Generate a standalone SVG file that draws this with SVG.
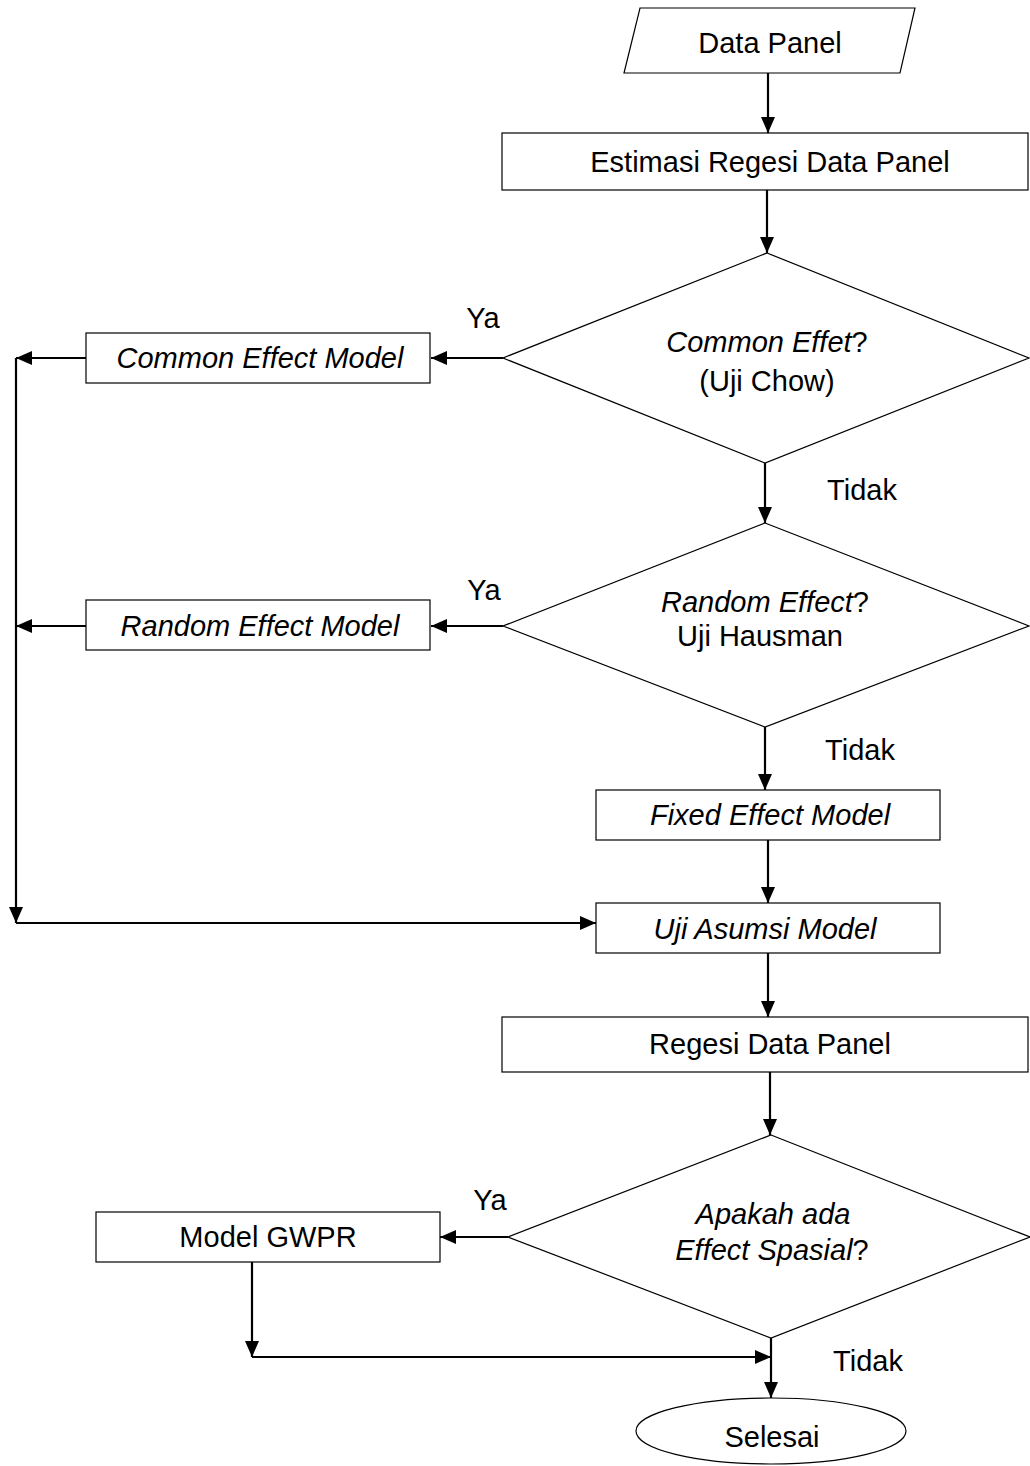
<svg xmlns="http://www.w3.org/2000/svg" width="1030" height="1466" viewBox="0 0 1030 1466">
<style>
.s{fill:#fff;stroke:#000;stroke-width:1.2}
.c{fill:none;stroke:#000;stroke-width:2.2}
text{font-family:"Liberation Sans",Arial,sans-serif;font-size:29px;fill:#000}
.m{text-anchor:middle}
.i{font-style:italic}
</style>
<defs>
<marker id="ah" markerUnits="userSpaceOnUse" markerWidth="16" markerHeight="14" refX="16" refY="7" orient="auto">
<path d="M0,0 L16,7 L0,14 Z" fill="#000"/>
</marker>
</defs>
<g id="connectors">
<line class="c" x1="768" y1="73" x2="768" y2="133" marker-end="url(#ah)"/>
<line class="c" x1="767" y1="190" x2="767" y2="253" marker-end="url(#ah)"/>
<line class="c" x1="503" y1="358" x2="431" y2="358" marker-end="url(#ah)"/>
<line class="c" x1="86" y1="358" x2="16" y2="358" marker-end="url(#ah)"/>
<line class="c" x1="765" y1="463" x2="765" y2="523" marker-end="url(#ah)"/>
<line class="c" x1="503" y1="626" x2="431" y2="626" marker-end="url(#ah)"/>
<line class="c" x1="86" y1="626" x2="16" y2="626" marker-end="url(#ah)"/>
<line class="c" x1="16" y1="358" x2="16" y2="923" marker-end="url(#ah)"/>
<line class="c" x1="16" y1="923" x2="596" y2="923" marker-end="url(#ah)"/>
<line class="c" x1="765" y1="727" x2="765" y2="790" marker-end="url(#ah)"/>
<line class="c" x1="768" y1="840" x2="768" y2="903" marker-end="url(#ah)"/>
<line class="c" x1="768" y1="953" x2="768" y2="1017" marker-end="url(#ah)"/>
<line class="c" x1="770" y1="1072" x2="770" y2="1135" marker-end="url(#ah)"/>
<line class="c" x1="508" y1="1237" x2="440" y2="1237" marker-end="url(#ah)"/>
<line class="c" x1="252" y1="1262" x2="252" y2="1357" marker-end="url(#ah)"/>
<line class="c" x1="252" y1="1357" x2="771" y2="1357" marker-end="url(#ah)"/>
<line class="c" x1="771" y1="1338" x2="771" y2="1398" marker-end="url(#ah)"/>
</g>
<g id="labels">
<text class="m" x="483" y="328">Ya</text>
<text class="m" x="862" y="500">Tidak</text>
<text class="m" x="484" y="600">Ya</text>
<text class="m" x="860" y="760">Tidak</text>
<text class="m" x="490" y="1210">Ya</text>
<text class="m" x="868" y="1371">Tidak</text>
</g>
<g id="data-panel">
<polygon class="s" points="640,8 915,8 900,73 624,73"/>
<text class="m" x="770" y="53">Data Panel</text>
</g>
<g id="estimasi">
<rect class="s" x="502" y="133" width="526" height="57"/>
<text class="m" x="770" y="172">Estimasi Regesi Data Panel</text>
</g>
<g id="d-common">
<polygon class="s" points="767,253 1029,358 765,463 503,358"/>
<text class="m" x="767" y="352"><tspan class="i">Common Effet</tspan>?</text>
<text class="m" x="767" y="391">(Uji Chow)</text>
</g>
<g id="common-model">
<rect class="s" x="86" y="333" width="344" height="50"/>
<text class="m i" x="260" y="368">Common Effect Model</text>
</g>
<g id="d-random">
<polygon class="s" points="765,523 1029,626 765,727 503,626"/>
<text class="m" x="765" y="612"><tspan class="i">Random Effect</tspan>?</text>
<text class="m" x="760" y="646">Uji Hausman</text>
</g>
<g id="random-model">
<rect class="s" x="86" y="600" width="344" height="50"/>
<text class="m i" x="260" y="636">Random Effect Model</text>
</g>
<g id="fixed-model">
<rect class="s" x="596" y="790" width="344" height="50"/>
<text class="m i" x="770" y="825">Fixed Effect Model</text>
</g>
<g id="uji-asumsi">
<rect class="s" x="596" y="903" width="344" height="50"/>
<text class="m i" x="765" y="939">Uji Asumsi Model</text>
</g>
<g id="regesi">
<rect class="s" x="502" y="1017" width="526" height="55"/>
<text class="m" x="770" y="1054">Regesi Data Panel</text>
</g>
<g id="d-spasial">
<polygon class="s" points="771,1135 1030,1237 771,1338 508,1237"/>
<text class="m i" x="773" y="1224">Apakah ada</text>
<text class="m" x="772" y="1260"><tspan class="i">Effect Spasial</tspan>?</text>
</g>
<g id="gwpr">
<rect class="s" x="96" y="1212" width="344" height="50"/>
<text class="m" x="268" y="1247">Model GWPR</text>
</g>
<g id="selesai">
<ellipse class="s" cx="771" cy="1431" rx="135" ry="33"/>
<text class="m" x="772" y="1447">Selesai</text>
</g>
</svg>
